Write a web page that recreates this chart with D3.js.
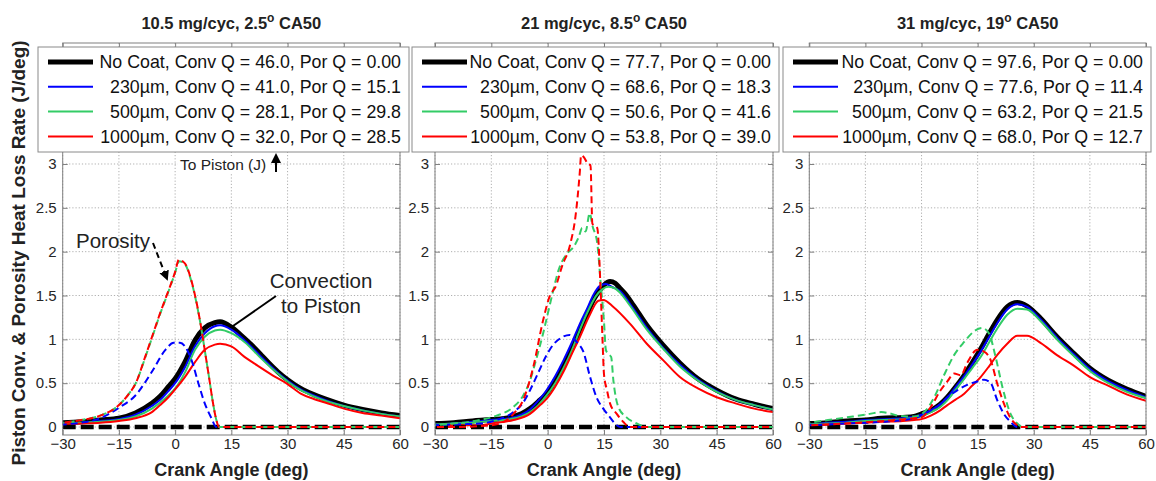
<!DOCTYPE html>
<html>
<head>
<meta charset="utf-8">
<script src="https://cdn.jsdelivr.net/npm/d3@7"></script>
<style>
  body { margin: 0; background: #fff; }
  svg { display: block; }
</style>
</head>
<body>
<svg id="chart" width="1156" height="481"></svg>
<script>
// ---- Axis ticks ----
const angleTicks = [-30, -15, 0, 15, 30, 45, 60];
const rateTicks = [0, 0.5, 1, 1.5, 2, 2.5, 3];

// ---- Operating points (panel titles) ----
const fuelLoads = ["10.5 mg/cyc", "21 mg/cyc", "31 mg/cyc"];
const ca50Values = ["2.5", "8.5", "19"];

// ---- Coatings and integrated heat (J) ----
const coatings = ["No Coat", "230\u00b5m", "500\u00b5m", "1000\u00b5m"];
const convQ1 = [46.0, 41.0, 28.1, 32.0];
const porQ1 = [0.00, 15.1, 29.8, 28.5];
const convQ2 = [77.7, 68.6, 50.6, 53.8];
const porQ2 = [0.00, 18.3, 41.6, 39.0];
const convQ3 = [97.6, 77.6, 63.2, 68.0];
const porQ3 = [0.00, 11.4, 21.5, 12.7];

// ---- 10.5 mg/cyc: convection to piston [crank angle, J/deg] ----
const conv1NoCoat = [[-30,0.05],[-25,0.06],[-20,0.08],[-15,0.1],[-10.6,0.16],[-6.2,0.27],[-4,0.35],[-1.8,0.46],[0,0.55],[2.6,0.74],[5.3,0.99],[7.9,1.13],[10.6,1.19],[12,1.2],[15,1.14],[18.5,1.01],[21,0.91],[23,0.82],[25,0.73],[27.4,0.63],[30,0.54],[33.5,0.44],[37,0.37],[40,0.32],[45,0.25],[50,0.2],[55,0.16],[60,0.13]];
const conv1C230 = [[-30,0.04],[-25,0.05],[-20,0.07],[-15,0.09],[-10.6,0.14],[-6.2,0.24],[-4,0.31],[-1.8,0.41],[0,0.5],[2.6,0.68],[5.3,0.92],[7.9,1.07],[10.6,1.15],[12,1.16],[15,1.11],[18.5,0.99],[23,0.8],[27.4,0.62],[30,0.53],[33.5,0.43],[37,0.36],[40,0.31],[45,0.24],[50,0.19],[55,0.15],[60,0.12]];
const conv1C500 = [[-30,0.04],[-25,0.05],[-20,0.06],[-15,0.08],[-10.6,0.12],[-6.2,0.21],[-4,0.28],[-1.8,0.36],[0,0.44],[2.6,0.62],[5.3,0.88],[7.9,1.03],[10.6,1.1],[12,1.11],[15,1.07],[18.5,0.97],[23,0.78],[27.4,0.61],[30,0.52],[33.5,0.42],[37,0.35],[40,0.3],[45,0.24],[50,0.19],[55,0.15],[60,0.12]];
const conv1C1000 = [[-30,0.03],[-25,0.04],[-20,0.05],[-15,0.07],[-10.6,0.1],[-6.2,0.17],[-4,0.25],[-1.8,0.34],[0,0.43],[2.6,0.57],[5.3,0.74],[7.9,0.88],[10.6,0.94],[12,0.95],[15,0.92],[18.5,0.8],[22,0.7],[26,0.59],[30,0.49],[33.5,0.38],[37,0.32],[40,0.28],[45,0.21],[50,0.16],[55,0.13],[60,0.1]];

// ---- 10.5 mg/cyc: porosity heat loss ----
const porNoCoat = [[-30,0],[60,0]];
const por1C230 = [[-30,0.03],[-25,0.05],[-20,0.1],[-15,0.22],[-10.6,0.36],[-6.2,0.63],[-2.6,0.88],[-0.4,0.96],[1.3,0.96],[2.6,0.92],[4.4,0.76],[6.2,0.5],[7.9,0.27],[9.7,0.1],[11,0],[60,0]];
const por1C500 = [[-30,0.05],[-25,0.08],[-20,0.13],[-15,0.25],[-12.5,0.37],[-10.5,0.5],[-8,0.79],[-6,1.04],[-4,1.29],[-2,1.52],[0,1.76],[1,1.89],[2,1.88],[3,1.83],[4,1.71],[5,1.55],[6,1.35],[7,1.12],[8,0.85],[9,0.58],[10,0.3],[11,0.08],[11.7,0],[60,0]];
const por1C1000 = [[-30,0.05],[-25,0.08],[-20,0.13],[-15,0.25],[-12.5,0.37],[-10.5,0.5],[-8,0.8],[-6,1.05],[-4,1.3],[-2,1.53],[0,1.77],[1,1.91],[2,1.89],[3,1.84],[4,1.72],[5,1.56],[6,1.36],[7,1.12],[8,0.85],[9,0.58],[10,0.3],[11,0.08],[11.7,0],[60,0]];

// ---- 21 mg/cyc: convection to piston ----
const conv2NoCoat = [[-30,0.04],[-25,0.05],[-20,0.07],[-15,0.085],[-10,0.11],[-7,0.15],[-4.7,0.21],[-2.5,0.29],[-0.3,0.38],[2,0.53],[4.2,0.69],[6.5,0.9],[8.6,1.11],[10.5,1.29],[12.2,1.45],[14,1.57],[15,1.62],[16.6,1.66],[18,1.64],[19.3,1.58],[21,1.5],[22.8,1.39],[26.4,1.16],[30.8,0.93],[35.2,0.73],[40,0.55],[45,0.42],[50,0.32],[55,0.26],[60,0.21]];
const conv2C230 = [[-30,0.03],[-25,0.04],[-20,0.06],[-15,0.08],[-10,0.1],[-7,0.14],[-4.7,0.2],[-2.5,0.3],[-0.3,0.42],[2,0.58],[4.2,0.76],[6.5,0.97],[8.6,1.18],[10.5,1.35],[12.2,1.51],[13.9,1.61],[15.5,1.63],[17,1.6],[19.3,1.55],[22,1.4],[26.4,1.13],[30.8,0.9],[35.2,0.71],[40,0.54],[45,0.41],[50,0.31],[55,0.25],[60,0.2]];
const conv2C500 = [[-30,0.03],[-25,0.04],[-20,0.05],[-15,0.07],[-10,0.09],[-7,0.12],[-4.7,0.17],[-2.5,0.25],[-0.3,0.36],[2,0.5],[4.2,0.67],[6.5,0.88],[8.6,1.11],[10.5,1.3],[12.8,1.49],[14.5,1.57],[16.2,1.6],[18,1.58],[19.3,1.53],[22,1.38],[26.4,1.11],[30.8,0.89],[35.2,0.69],[40,0.53],[45,0.4],[50,0.31],[55,0.25],[60,0.2]];
const conv2C1000 = [[-30,0.01],[-25,0.02],[-18,0.02],[-15,0.04],[-9.1,0.08],[-4.7,0.15],[-2,0.25],[-0.3,0.32],[2,0.46],[4.2,0.63],[6.5,0.84],[8.6,1.03],[11,1.26],[13.5,1.44],[14.8,1.45],[17.5,1.37],[21.9,1.18],[26.4,0.95],[30.8,0.76],[35.2,0.57],[40,0.44],[45,0.34],[50,0.27],[55,0.21],[60,0.17]];

// ---- 21 mg/cyc: porosity heat loss ----
const por2C230 = [[-30,0.02],[-25,0.03],[-18,0.04],[-13.6,0.08],[-9.1,0.17],[-6.5,0.28],[-4.7,0.42],[-2.5,0.62],[-0.3,0.82],[1.5,0.94],[3.3,1.01],[5.9,1.05],[7.7,0.97],[9.5,0.86],[11.3,0.57],[13,0.34],[14.8,0.21],[16.6,0.11],[18.4,0.02],[19.5,0],[60,0]];
const por2C500 = [[-30,0.02],[-25,0.04],[-18,0.08],[-13.6,0.13],[-9.1,0.23],[-6.5,0.36],[-4.7,0.53],[-3,0.78],[-1.2,1.07],[0.5,1.38],[1.5,1.56],[2.9,1.79],[5.2,1.98],[7,2.06],[8.3,2.17],[9.2,2.27],[10.1,2.23],[11.2,2.44],[11.9,2.3],[13.2,2.1],[14.1,1.65],[15,1.2],[15.5,0.88],[16.2,0.83],[16.9,0.8],[17.5,0.53],[18.8,0.23],[21,0.11],[23.7,0.04],[26.4,0],[60,0]];
const por2C1000 = [[-30,0],[-25,0],[-18,0.01],[-13.6,0.03],[-9.1,0.15],[-6.5,0.31],[-3.8,0.69],[-1.2,1.22],[0.6,1.5],[2.1,1.6],[3.8,1.83],[6.1,2.1],[7.4,2.4],[8.6,2.93],[8.9,3.1],[9.6,3.08],[11,2.99],[11.4,2.99],[11.9,2.32],[13.2,2.27],[14.1,1.56],[14.6,1.0],[15,0.6],[15.8,0.42],[16.6,0.27],[18.4,0.15],[20.1,0.06],[21.9,0],[60,0]];

// ---- 31 mg/cyc: convection to piston ----
const conv3NoCoat = [[-30,0.04],[-25,0.05],[-20,0.07],[-15,0.08],[-10.8,0.1],[-5,0.11],[-2,0.12],[0,0.15],[2.5,0.19],[5,0.26],[6.9,0.34],[9,0.45],[11.4,0.59],[13.5,0.73],[15.8,0.89],[18,1.06],[20.2,1.22],[22.9,1.37],[25.6,1.42],[28.2,1.38],[31.8,1.24],[36.2,1.03],[40.7,0.84],[45,0.67],[50,0.53],[55,0.43],[60,0.35]];
const conv3C230 = [[-30,0.03],[-25,0.05],[-20,0.06],[-15,0.08],[-10,0.09],[-5,0.1],[0,0.14],[2.5,0.19],[5,0.26],[7,0.34],[9,0.45],[11.4,0.58],[13.5,0.71],[15.8,0.86],[18,1.02],[20.2,1.18],[22.9,1.34],[25.6,1.4],[28.2,1.37],[31.8,1.23],[36.2,1.02],[40.7,0.83],[45,0.66],[50,0.52],[55,0.42],[60,0.34]];
const conv3C500 = [[-30,0.03],[-25,0.04],[-20,0.05],[-15,0.07],[-10,0.08],[-5,0.09],[0,0.12],[2.5,0.17],[5,0.23],[7,0.31],[9,0.42],[11.4,0.55],[13.5,0.67],[15.8,0.8],[18,0.96],[20.2,1.12],[22.9,1.28],[25.6,1.35],[28.2,1.34],[31.8,1.21],[36.2,1.0],[40.7,0.81],[45,0.64],[50,0.5],[55,0.4],[60,0.33]];
const conv3C1000 = [[-30,0.02],[-25,0.03],[-20,0.04],[-15,0.05],[-10.8,0.06],[-5,0.07],[-2,0.08],[0,0.09],[2.5,0.13],[5,0.19],[6.9,0.25],[9,0.31],[11.4,0.38],[13.5,0.47],[15.8,0.57],[18,0.69],[20.2,0.82],[22.9,0.95],[25.6,1.04],[28.2,1.04],[31.8,0.96],[36.2,0.82],[40.7,0.7],[45,0.57],[50,0.47],[55,0.37],[60,0.3]];

// ---- 31 mg/cyc: porosity heat loss ----
const por3C230 = [[-30,0.02],[-20,0.04],[-10,0.06],[-5,0.08],[-2,0.1],[2.5,0.19],[5,0.26],[6.9,0.34],[9.6,0.42],[12.2,0.48],[14.9,0.52],[16.7,0.54],[18.5,0.5],[20.2,0.31],[22,0.15],[23.8,0.06],[25.6,0],[60,0]];
const por3C500 = [[-30,0.05],[-25,0.08],[-20,0.11],[-15,0.14],[-10.8,0.17],[-8,0.15],[-6.4,0.13],[-2,0.12],[0.7,0.17],[3.4,0.34],[6,0.59],[8.7,0.82],[11.4,0.97],[14,1.09],[16.2,1.13],[18,1.07],[19.8,0.8],[21.6,0.46],[23.8,0.15],[25.6,0.04],[27,0],[60,0]];
const por3C1000 = [[-30,0.02],[-20,0.04],[-10,0.07],[-2,0.1],[0,0.11],[2.5,0.23],[5.1,0.42],[6.9,0.52],[8.7,0.61],[10.5,0.59],[12.2,0.73],[14.9,0.88],[16.7,0.86],[18.5,0.76],[20.2,0.5],[22,0.27],[23.8,0.1],[25.6,0.02],[26.5,0],[60,0]];

// ---- Styling ----
const FONT = '"Liberation Sans", Arial, Helvetica, sans-serif';
const seriesColors = ["#000000", "#0000ff", "#33cc66", "#ff0000"];
const solidWidths = [5, 2, 2, 2];

const panels = [
  { load: fuelLoads[0], ca50: ca50Values[0], conv: [conv1NoCoat, conv1C230, conv1C500, conv1C1000],
    por: [porNoCoat, por1C230, por1C500, por1C1000], convQ: convQ1, porQ: porQ1,
    x0: 62.7, x1: 400, legX0: 38, legX1: 409 },
  { load: fuelLoads[1], ca50: ca50Values[1], conv: [conv2NoCoat, conv2C230, conv2C500, conv2C1000],
    por: [porNoCoat, por2C230, por2C500, por2C1000], convQ: convQ2, porQ: porQ2,
    x0: 435, x1: 773, legX0: 412, legX1: 779 },
  { load: fuelLoads[2], ca50: ca50Values[2], conv: [conv3NoCoat, conv3C230, conv3C500, conv3C1000],
    por: [porNoCoat, por3C230, por3C500, por3C1000], convQ: convQ3, porQ: porQ3,
    x0: 809.3, x1: 1146, legX0: 783, legX1: 1151 }
];

const axTop = 43, axBottom = 435;
const legTop = 47, legBottom = 152;

const svg = d3.select("#chart");
svg.append("rect").attr("width", 1156).attr("height", 481).attr("fill", "#fff");

const defs = svg.append("defs");
defs.append("marker").attr("id", "arrowHead")
  .attr("viewBox", "0 0 10 10").attr("refX", 8).attr("refY", 5)
  .attr("markerWidth", 5).attr("markerHeight", 5).attr("orient", "auto")
  .append("path").attr("d", "M0,0 L10,5 L0,10 z").attr("fill", "#000");

const y = d3.scaleLinear().domain([-0.091, 4.38]).range([axBottom, axTop]);

panels.forEach((p, pi) => {
  const x = d3.scaleLinear().domain([-30, 60]).range([p.x0, p.x1]);
  const g = svg.append("g");
  const cx = (p.x0 + p.x1) / 2;

  // Title with superscript degree mark
  const t = g.append("text").attr("x", cx).attr("y", 29).attr("text-anchor", "middle")
    .attr("font-family", FONT).attr("font-size", 16.5).attr("font-weight", "bold").attr("fill", "#222");
  t.append("tspan").text(`${p.load}, ${p.ca50}`);
  t.append("tspan").attr("dy", -7).attr("font-size", 12).text("o");
  t.append("tspan").attr("dy", 7).text(" CA50");

  // Grid
  const grid = g.append("g").attr("stroke", "#9a9a9a").attr("stroke-width", 0.8).attr("stroke-dasharray", "1.2,2");
  angleTicks.forEach(a => grid.append("line").attr("x1", x(a)).attr("x2", x(a)).attr("y1", axTop).attr("y2", axBottom));
  rateTicks.forEach(v => grid.append("line").attr("x1", p.x0).attr("x2", p.x1).attr("y1", y(v)).attr("y2", y(v)));

  // Axes (inward ticks on all four sides)
  const axisStyle = sel => {
    sel.select(".domain").remove();
    sel.selectAll("line").attr("stroke", "#808080");
    sel.selectAll("text").attr("font-family", FONT).attr("font-size", 15).attr("fill", "#262626");
  };
  g.append("g").attr("transform", `translate(0,${axBottom})`)
    .call(d3.axisBottom(x).tickValues(angleTicks).tickSize(-5).tickPadding(3).tickFormat(d3.format("d"))).call(axisStyle);
  g.append("g").attr("transform", `translate(0,${axTop})`)
    .call(d3.axisTop(x).tickValues(angleTicks).tickSize(-5).tickFormat("")).call(axisStyle);
  g.append("g").attr("transform", `translate(${p.x0},0)`)
    .call(d3.axisLeft(y).tickValues(rateTicks).tickSize(-5).tickPadding(6).tickFormat(d => String(d))).call(axisStyle);
  g.append("g").attr("transform", `translate(${p.x1},0)`)
    .call(d3.axisRight(y).tickValues(rateTicks).tickSize(-5).tickFormat("")).call(axisStyle);

  // Curves
  const clipId = `clip${pi}`;
  defs.append("clipPath").attr("id", clipId).append("rect")
    .attr("x", p.x0).attr("y", axTop).attr("width", p.x1 - p.x0).attr("height", axBottom - axTop);
  const plot = g.append("g").attr("clip-path", `url(#${clipId})`);
  const line = d3.line().x(d => x(d[0])).y(d => y(d[1])).curve(d3.curveMonotoneX);

  p.conv.forEach((s, i) => {
    plot.append("path").attr("d", line(s)).attr("fill", "none")
      .attr("stroke", seriesColors[i]).attr("stroke-width", solidWidths[i])
      .attr("stroke-linejoin", "round").attr("stroke-linecap", "round");
  });
  p.por.forEach((s, i) => {
    plot.append("path").attr("d", line(s)).attr("fill", "none")
      .attr("stroke", seriesColors[i]).attr("stroke-width", i === 0 ? 4.5 : 2)
      .attr("stroke-dasharray", i === 0 ? "13,5" : "7,4")
      .attr("stroke-dashoffset", i * 3);
  });

  // Axes frame
  g.append("rect").attr("x", p.x0).attr("y", axTop).attr("width", p.x1 - p.x0).attr("height", axBottom - axTop)
    .attr("fill", "none").attr("stroke", "#808080").attr("stroke-width", 1);

  // Legend
  const leg = g.append("g");
  leg.append("rect").attr("x", p.legX0).attr("y", legTop).attr("width", p.legX1 - p.legX0).attr("height", legBottom - legTop)
    .attr("fill", "#fff").attr("stroke", "#8a8a8a").attr("stroke-width", 1);
  coatings.forEach((name, i) => {
    const ry = 62 + i * 24.8;
    leg.append("line").attr("x1", p.legX0 + 10).attr("x2", p.legX0 + 55).attr("y1", ry).attr("y2", ry)
      .attr("stroke", seriesColors[i]).attr("stroke-width", solidWidths[i]);
    const por = p.porQ[i] === 0 ? p.porQ[i].toFixed(2) : p.porQ[i].toFixed(1);
    leg.append("text").attr("x", p.legX1 - 8).attr("y", ry + 6.3).attr("text-anchor", "end")
      .attr("font-family", FONT).attr("font-size", 17.8).attr("fill", "#111")
      .text(`${name}, Conv Q = ${p.convQ[i].toFixed(1)}, Por Q = ${por}`);
  });

  // X label
  g.append("text").attr("x", cx).attr("y", 476).attr("text-anchor", "middle")
    .attr("font-family", FONT).attr("font-size", 18).attr("font-weight", "bold").attr("fill", "#222")
    .text("Crank Angle (deg)");
});

// Y label
svg.append("text").attr("transform", "translate(25,253) rotate(-90)").attr("text-anchor", "middle")
  .attr("font-family", FONT).attr("font-size", 19).attr("font-weight", "bold").attr("fill", "#222")
  .text("Piston Conv. & Porosity Heat Loss Rate (J/deg)");

// Annotations on the first panel
const ann = svg.append("g").attr("font-family", FONT).attr("fill", "#222");
ann.append("rect").attr("x", 178).attr("y", 156).attr("width", 92).attr("height", 17).attr("fill", "#fff");
ann.append("text").attr("x", 180).attr("y", 170).attr("font-size", 15.5).text("To Piston (J)");
ann.append("line").attr("x1", 276).attr("x2", 276).attr("y1", 172).attr("y2", 155)
  .attr("stroke", "#000").attr("stroke-width", 2).attr("marker-end", "url(#arrowHead)");

ann.append("text").attr("x", 76).attr("y", 248).attr("font-size", 20.5).text("Porosity");
ann.append("line").attr("x1", 153).attr("y1", 243).attr("x2", 167).attr("y2", 279)
  .attr("stroke", "#000").attr("stroke-width", 2).attr("stroke-dasharray", "6,4").attr("marker-end", "url(#arrowHead)");

ann.append("text").attr("x", 321).attr("y", 288).attr("font-size", 20.5).attr("text-anchor", "middle").text("Convection");
ann.append("text").attr("x", 321).attr("y", 313).attr("font-size", 20.5).attr("text-anchor", "middle").text("to Piston");
ann.append("line").attr("x1", 276).attr("y1", 296).attr("x2", 233).attr("y2", 326)
  .attr("stroke", "#000").attr("stroke-width", 2);
</script>
</body>
</html>
